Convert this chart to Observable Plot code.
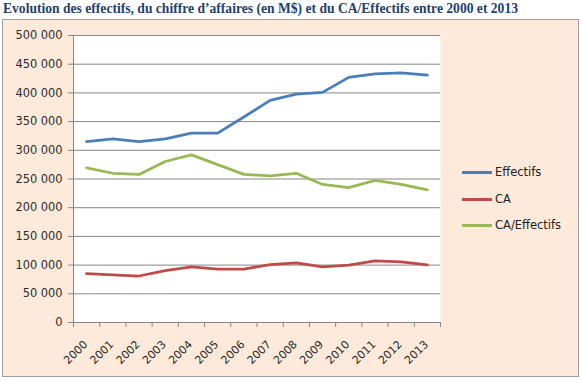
<!DOCTYPE html>
<html>
<head>
<meta charset="utf-8">
<script src="https://cdn.jsdelivr.net/npm/d3@7"></script>
<script src="https://cdn.jsdelivr.net/npm/@observablehq/plot@0.6"></script>
<style>
  body { margin:0; background:#fff; width:582px; height:381px; position:relative; overflow:hidden; }
  #title { position:absolute; left:0; top:0; }
  #frame { position:absolute; left:2px; top:19px; width:575px; height:356px; border:1px solid #A0A0A0; background:#FDEADA; }
  #frame svg.plot { position:absolute; left:0; top:0; }
  #legend { position:absolute; left:459px; top:0; font-family:"DejaVu Sans"; font-size:11.5px; color:#222; }
  .item { position:absolute; left:0; display:flex; align-items:center; white-space:nowrap; }
  .sw { width:30px; height:3px; margin-right:3px; }
</style>
</head>
<body>
<svg id="title" width="582" height="19">
  <text x="3" y="13" textLength="515" lengthAdjust="spacingAndGlyphs" font-family="Liberation Serif" font-weight="bold" font-size="14.5" fill="#1F3F6E">Evolution des effectifs, du chiffre d’affaires (en M$) et du CA/Effectifs entre 2000 et 2013</text>
</svg>
<div id="frame"></div>
<script>
const years = [2000, 2001, 2002, 2003, 2004, 2005, 2006, 2007, 2008, 2009, 2010, 2011, 2012, 2013];
const effectifs = [315000, 320000, 315000, 320000, 330000, 330000, 358000, 387000, 398000, 401000, 427000, 433000, 435000, 431000];
const ca = [85000, 83000, 81000, 90500, 97000, 93000, 93000, 101000, 104000, 97000, 100000, 107500, 105500, 100500];
const caEffectifs = [269500, 260000, 258000, 280500, 292000, 275000, 258000, 255500, 260000, 240500, 235000, 247500, 240500, 231000];
const seriesNames = ["Effectifs", "CA", "CA/Effectifs"];
const seriesColors = ["#4A7EBB", "#BE4B48", "#98B954"];
const yTicks = [0, 50000, 100000, 150000, 200000, 250000, 300000, 350000, 400000, 450000, 500000];

const seriesValues = [effectifs, ca, caEffectifs];
const rows = [];
seriesNames.forEach((name, i) => years.forEach((yr, j) => rows.push({serie: name, year: yr, value: seriesValues[i][j]})));
const bounds = years.map(y => y - 0.5).concat([years[years.length - 1] + 0.5]);
const fmt = d => d3.format(",")(d).replace(/,/g, " ");

const chart = Plot.plot({
  width: 575,
  height: 356,
  marginLeft: 70,
  marginRight: 138,
  marginTop: 15,
  marginBottom: 54,
  style: { fontFamily: "DejaVu Sans", fontSize: "11.4px", color: "#2b2b2b", background: "transparent" },
  x: { type: "linear", domain: [bounds[0], bounds[bounds.length - 1]] },
  y: { domain: [0, 500000] },
  color: { domain: seriesNames, range: seriesColors },
  marks: [
    Plot.frame({ fill: "white", stroke: null }),
    Plot.gridY(yTicks, { stroke: "#868686", strokeOpacity: 1 }),
    Plot.ruleX([bounds[0]], { stroke: "#868686" }),
    Plot.ruleY([0], { stroke: "#868686" }),
    Plot.axisY(yTicks, { tickSize: 5, tickPadding: 6, tickFormat: fmt, stroke: "#868686", label: null }),
    Plot.axisX(bounds, { tickSize: 5, tickFormat: () => "", stroke: "#868686", label: null }),
    Plot.axisX(years, { tickSize: 0, tickPadding: 20, tickRotate: -45, dx: -1, fontSize: "11px", tickFormat: d => String(d), label: null }),
    Plot.line(rows, { x: "year", y: "value", z: "serie", stroke: "serie", strokeWidth: 2.75 })
  ]
});
chart.classList.add("plot");
const frame = document.getElementById("frame");
frame.appendChild(chart);

const legend = document.createElement("div");
legend.id = "legend";
const legendY = [152, 179, 205];
seriesNames.forEach((n, i) => {
  const it = document.createElement("div");
  it.className = "item";
  it.style.top = (legendY[i] - 8) + "px";
  it.style.height = "16px";
  const sw = document.createElement("span");
  sw.className = "sw";
  sw.style.background = seriesColors[i];
  const tx = document.createElement("span");
  tx.textContent = n;
  it.appendChild(sw); it.appendChild(tx);
  legend.appendChild(it);
});
frame.appendChild(legend);
</script>
</body>
</html>
